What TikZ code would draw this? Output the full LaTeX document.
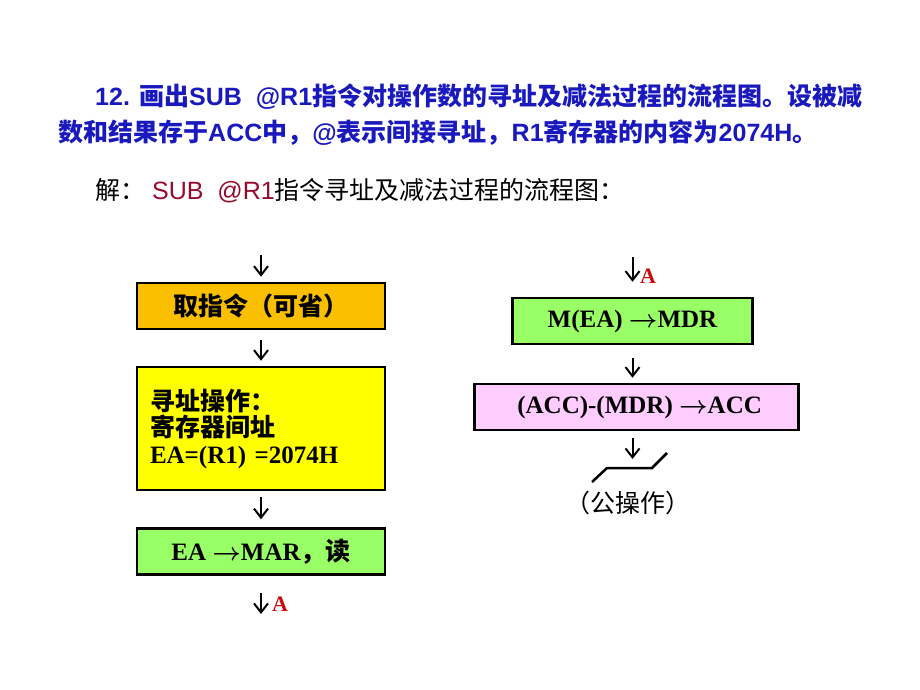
\documentclass[tikz,border=0pt]{standalone}
\usepackage{fontspec}
\setmainfont{Liberation Serif}
\newfontfamily\cjkfont{Noto Sans CJK SC}
\newfontfamily\arialfont{Liberation Sans}
\usetikzlibrary{arrows.meta}
\definecolor{titleblue}{RGB}{25,25,190}
\definecolor{subred}{RGB}{150,10,45}
\definecolor{markred}{RGB}{205,10,10}
\definecolor{fetchorange}{RGB}{250,192,0}
\definecolor{addryellow}{RGB}{255,255,0}
\definecolor{opgreen}{RGB}{153,255,102}
\definecolor{subpink}{RGB}{255,204,255}
\newcommand{\zh}[1]{{\cjkfont #1}}
\newcommand{\en}[1]{{\arialfont #1}}
\newcommand{\toarrow}{{\boldmath$\rightarrow$}}

\begin{document}
\begin{tikzpicture}[x=1pt,y=-1pt,
		box/.style={draw,line width=2.5pt,minimum width=248pt,minimum height=46pt,inner sep=0pt,font=\fontsize{25}{26}\selectfont\bfseries},
		flow/.style={line width=2pt,-{Straight Barb[length=9pt,width=14pt]}},
		title/.style={anchor=base west,inner sep=0pt,font=\fontsize{25}{30}\selectfont},
		marka/.style={inner sep=0pt,text=markred,font=\fontsize{22}{24}\selectfont\bfseries}]
			\useasboundingbox (0,0) rectangle (920,690);
%			question and answer
			\node[title,text=titleblue] (line1) at (95,106) {\bfseries\en{12. }\zh{画出}\en{SUB\ \ @R1}\zh{指令对操作数的寻址及减法过程的流程图。设被减}};
			\node[title,text=titleblue] (line2) at (58,141) {\bfseries\zh{数和结果存于}\en{ACC}\zh{中，}\en{@}\zh{表示间接寻址，}\en{R1}\zh{寄存器的内容为}\en{2074H}\zh{。}};
			\node[title] (line3) at (95,199) {\zh{解：}\en{\ \textcolor{subred}{SUB\ \ @R1}}\zh{指令寻址及减法过程的流程图：}};
%			left column
			\coordinate (start) at (261,255);
			\node[box,fill=fetchorange] (fetch) at (261,306) {\zh{取指令（可省）}};
			\node[box,fill=addryellow,minimum height=123pt,align=left,text width=222pt] (addr) at (261,428.5) {\zh{寻址操作：}\\\zh{寄存器间址}\\[1pt]EA=(R1) =2074H};
			\node[box,fill=opgreen] (mar) at (261,551.5) {EA \toarrow MAR\zh{，读}};
			\coordinate (outA) at (261,614);
			\node[marka] (labA1) at (280,604) {A};
			\draw[flow,shorten >=5pt] (start) -- (fetch);
			\draw[flow,shorten <=10pt,shorten >=5pt] (fetch) -- (addr);
			\draw[flow,shorten <=6pt,shorten >=8pt] (addr) -- (mar);
			\draw[flow,shorten <=17pt] (mar) -- (outA);
%			right column
			\coordinate (inA) at (632.5,257);
			\node[marka] (labA2) at (648,276) {A};
			\node[box,fill=opgreen,minimum width=240pt] (mdr) at (632.5,321) {M(EA) \toarrow MDR};
			\node[box,fill=subpink,minimum width=324pt] (subacc) at (636.5,407) {\ (ACC)-(MDR) \toarrow ACC};
			\coordinate (pubtop) at (632.5,459);
			\draw[flow,shorten >=15pt] (inA) -- (mdr);
			\draw[flow,shorten <=13pt,shorten >=5pt] (mdr) -- (mdr |- subacc.north);
			\draw[flow,shorten <=7pt] (subacc.south -| pubtop) -- (pubtop);
			\draw[line width=2.5pt] (592,482) -- (607,468) -- (652,468) -- (667,453);
			\node[inner sep=0pt,font=\fontsize{25}{27}\selectfont] (pub) at (628,503) {\zh{（公操作）}};
		\end{tikzpicture}
\end{document}
